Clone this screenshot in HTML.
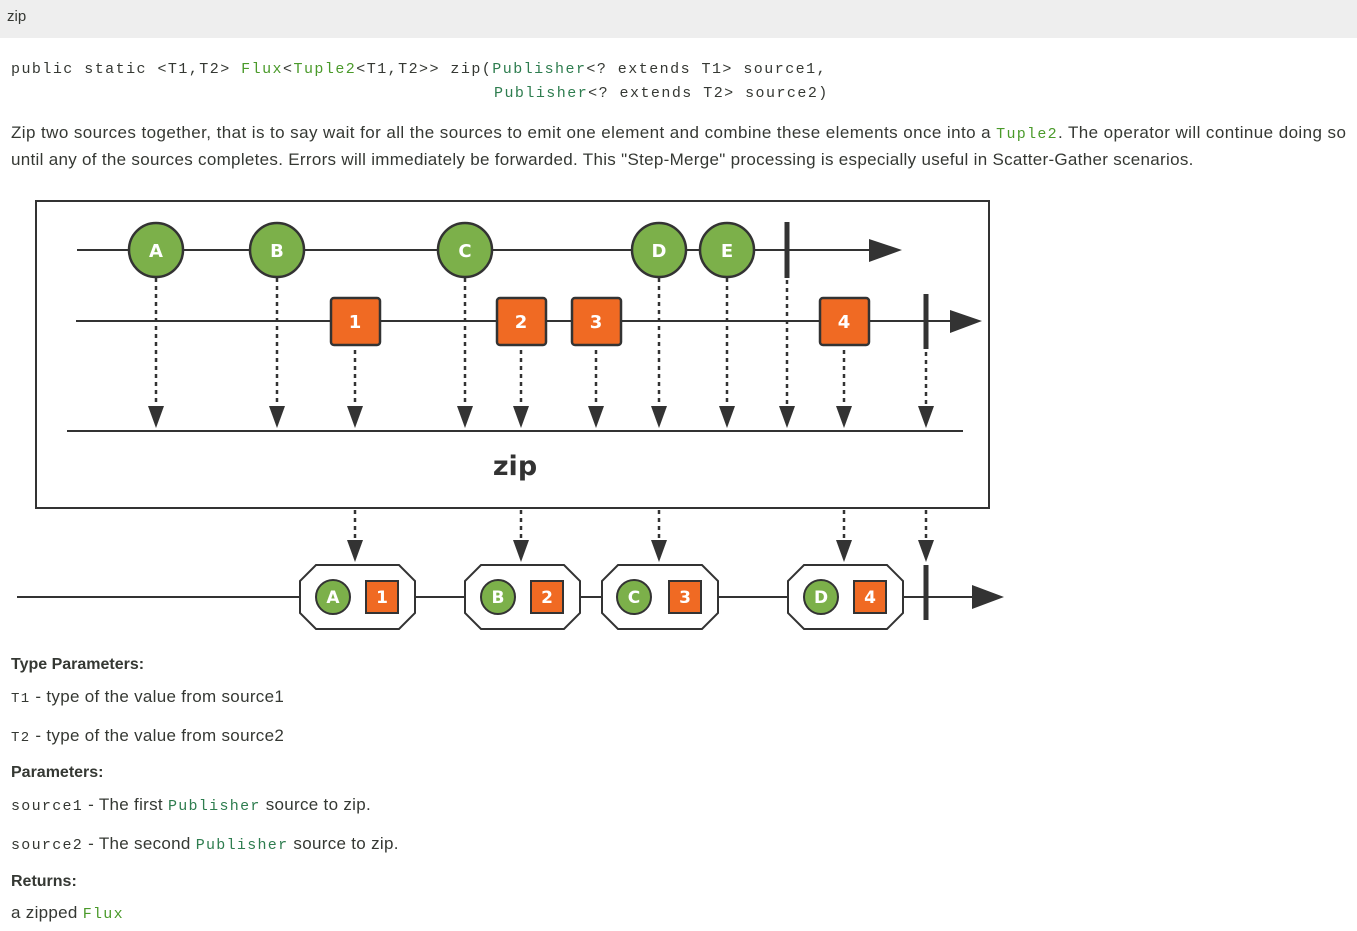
<!DOCTYPE html>
<html><head><meta charset="utf-8"><style>
body{margin:0;width:1357px;height:931px;background:#fff;position:relative;font-family:"Liberation Sans",sans-serif;color:#353833;overflow:hidden}
.a{position:absolute;white-space:nowrap}
.m{font-family:"Liberation Mono",monospace;letter-spacing:1.3px}
.g{color:#4a9a2a}.gg{color:#2e7d4f}
.t{font-size:17px;letter-spacing:0.3px}
</style></head><body>
<div class="a" style="left:0;top:0;width:1357px;height:38px;background:#eeeeee"></div>
<div class="a" style="left:7px;top:8px;font-size:15px">zip</div>
<div class="a m" style="left:11px;top:61px;font-size:15px;letter-spacing:1.46px">public static &lt;T1,T2&gt; <span class="g">Flux</span>&lt;<span class="g">Tuple2</span>&lt;T1,T2&gt;&gt; zip(<span class="gg">Publisher</span>&lt;? extends T1&gt; source1,</div>
<div class="a m" style="left:494px;top:85px;font-size:15px;letter-spacing:1.46px"><span class="gg">Publisher</span>&lt;? extends T2&gt; source2)</div>
<div class="a" style="left:11px;top:123px;font-size:17px;letter-spacing:0.42px">Zip two sources together, that is to say wait for all the sources to emit one element and combine these elements once into a <span class="m g" style="font-size:15px">Tuple2</span>. The operator will continue doing so</div>
<div class="a" style="left:11px;top:150px;font-size:17px;letter-spacing:0.3px">until any of the sources completes. Errors will immediately be forwarded. This "Step-Merge" processing is especially useful in Scatter-Gather scenarios.</div>

<svg class="a" style="left:0;top:0" width="1357" height="931" viewBox="0 0 1357 931">
<rect x="36" y="201" width="953" height="307" fill="#fff" stroke="#333" stroke-width="2"/>
<g stroke="#333" stroke-width="2">
<line x1="77" y1="250" x2="875" y2="250"/>
<line x1="76" y1="321" x2="955" y2="321"/>
<line x1="67" y1="431" x2="963" y2="431"/>
<line x1="17" y1="597" x2="980" y2="597"/>
</g>
<g fill="#333">
<polygon points="869,239 902,250 869,262"/>
<polygon points="950,310 982,321 950,333"/>
<polygon points="972,585 1004,597 972,609"/>
</g>
<g stroke="#333" stroke-width="5">
<line x1="787" y1="222" x2="787" y2="278"/>
<line x1="926" y1="294" x2="926" y2="349"/>
<line x1="926" y1="565" x2="926" y2="620"/>
</g>
<g stroke="#333" stroke-width="2.5" stroke-dasharray="4,4">
<line x1="156" y1="278" x2="156" y2="408"/>
<line x1="277" y1="278" x2="277" y2="408"/>
<line x1="355" y1="350" x2="355" y2="408"/>
<line x1="465" y1="278" x2="465" y2="408"/>
<line x1="521" y1="350" x2="521" y2="408"/>
<line x1="596" y1="350" x2="596" y2="408"/>
<line x1="659" y1="278" x2="659" y2="408"/>
<line x1="727" y1="278" x2="727" y2="408"/>
<line x1="787" y1="280" x2="787" y2="408"/>
<line x1="844" y1="350" x2="844" y2="408"/>
<line x1="926" y1="352" x2="926" y2="408"/>
<line x1="355" y1="510" x2="355" y2="542"/>
<line x1="521" y1="510" x2="521" y2="542"/>
<line x1="659" y1="510" x2="659" y2="542"/>
<line x1="844" y1="510" x2="844" y2="542"/>
<line x1="926" y1="510" x2="926" y2="542"/>
</g>
<g fill="#333">
<polygon points="148,406 164,406 156,428"/>
<polygon points="269,406 285,406 277,428"/>
<polygon points="347,406 363,406 355,428"/>
<polygon points="457,406 473,406 465,428"/>
<polygon points="513,406 529,406 521,428"/>
<polygon points="588,406 604,406 596,428"/>
<polygon points="651,406 667,406 659,428"/>
<polygon points="719,406 735,406 727,428"/>
<polygon points="779,406 795,406 787,428"/>
<polygon points="836,406 852,406 844,428"/>
<polygon points="918,406 934,406 926,428"/>
<polygon points="347,540 363,540 355,562"/>
<polygon points="513,540 529,540 521,562"/>
<polygon points="651,540 667,540 659,562"/>
<polygon points="836,540 852,540 844,562"/>
<polygon points="918,540 934,540 926,562"/>
</g>
<g stroke="#333" stroke-width="2.5" fill="#7cb04a">
<circle cx="156" cy="250" r="27"/><circle cx="277" cy="250" r="27"/><circle cx="465" cy="250" r="27"/><circle cx="659" cy="250" r="27"/><circle cx="727" cy="250" r="27"/>
</g>
<g stroke="#333" stroke-width="2.5" fill="#f06a23">
<rect x="331" y="298" width="49" height="47" rx="3"/>
<rect x="497" y="298" width="49" height="47" rx="3"/>
<rect x="572" y="298" width="49" height="47" rx="3"/>
<rect x="820" y="298" width="49" height="47" rx="3"/>
</g>
<g fill="#fff" font-family="DejaVu Sans" font-weight="bold" font-size="18" text-anchor="middle">
<text x="156" y="257">A</text><text x="277" y="257">B</text><text x="465" y="257">C</text><text x="659" y="257">D</text><text x="727" y="257">E</text>
<text x="355" y="328">1</text><text x="521" y="328">2</text><text x="596" y="328">3</text><text x="844" y="328">4</text>
</g>
<text x="515" y="475" font-family="DejaVu Sans" font-weight="bold" font-size="27" text-anchor="middle" fill="#333">zip</text>
<g stroke="#333" stroke-width="2" fill="#fff">
<polygon points="316,565 399,565 415,581 415,613 399,629 316,629 300,613 300,581"/>
<polygon points="481,565 564,565 580,581 580,613 564,629 481,629 465,613 465,581"/>
<polygon points="618,565 702,565 718,581 718,613 702,629 618,629 602,613 602,581"/>
<polygon points="804,565 887,565 903,581 903,613 887,629 804,629 788,613 788,581"/>
</g>
<g stroke="#333" stroke-width="2" fill="#7cb04a">
<circle cx="333" cy="597" r="17"/><circle cx="498" cy="597" r="17"/><circle cx="634" cy="597" r="17"/><circle cx="821" cy="597" r="17"/>
</g>
<g stroke="#333" stroke-width="2" fill="#f06a23">
<rect x="366" y="581" width="32" height="32"/><rect x="531" y="581" width="32" height="32"/><rect x="669" y="581" width="32" height="32"/><rect x="854" y="581" width="32" height="32"/>
</g>
<g fill="#fff" font-family="DejaVu Sans" font-weight="bold" font-size="17" text-anchor="middle">
<text x="333" y="603">A</text><text x="498" y="603">B</text><text x="634" y="603">C</text><text x="821" y="603">D</text>
<text x="382" y="603">1</text><text x="547" y="603">2</text><text x="685" y="603">3</text><text x="870" y="603">4</text>
</g>
</svg>

<div class="a" style="left:11px;top:656px;font-size:16px;font-weight:bold">Type Parameters:</div>
<div class="a t" style="left:11px;top:687px"><span class="m" style="font-size:14px">T1</span> - type of the value from source1</div>
<div class="a t" style="left:11px;top:726px"><span class="m" style="font-size:14px">T2</span> - type of the value from source2</div>
<div class="a" style="left:11px;top:764px;font-size:16px;font-weight:bold">Parameters:</div>
<div class="a t" style="left:11px;top:795px"><span class="m" style="font-size:15px">source1</span> - The first <span class="m gg" style="font-size:15px">Publisher</span> source to zip.</div>
<div class="a t" style="left:11px;top:834px"><span class="m" style="font-size:15px">source2</span> - The second <span class="m gg" style="font-size:15px">Publisher</span> source to zip.</div>
<div class="a" style="left:11px;top:873px;font-size:16px;font-weight:bold">Returns:</div>
<div class="a t" style="left:11px;top:903px">a zipped <span class="m g" style="font-size:15px">Flux</span></div>
</body></html>
